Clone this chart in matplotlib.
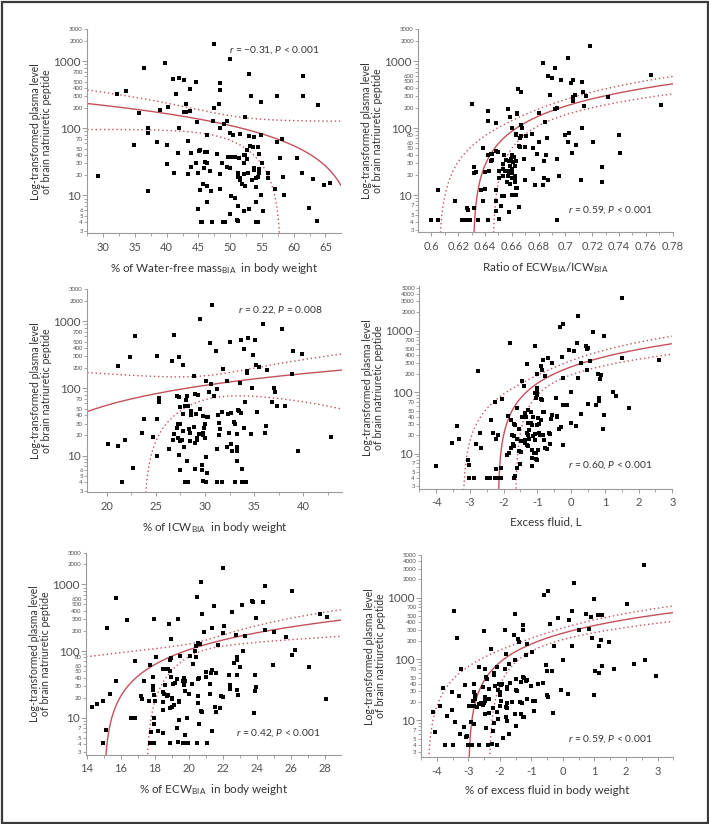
import matplotlib
matplotlib.use("Agg")
import matplotlib.pyplot as plt
import numpy as np
from matplotlib.patches import Rectangle
from matplotlib.ticker import AutoMinorLocator, FixedLocator, FuncFormatter

plt.rcParams["font.family"] = ["Lato", "DejaVu Sans"]
plt.rcParams["mathtext.fontset"] = "custom"
plt.rcParams["mathtext.rm"] = "Lato"
plt.rcParams["mathtext.it"] = "Lato:italic"
plt.rcParams["axes.unicode_minus"] = False

YLABEL = "Log-transformed plasma level\nof brain natriuretic peptide"

# (x, BNP) pairs
water_free = np.array([
    (47.5, 1800), (50.0, 1100), (39.8, 950), (36.4, 790), (53.0, 650), (61.5, 610),
    (41.0, 540), (41.9, 560), (42.7, 520), (44.6, 490), (48.4, 480), (43.6, 390),
    (48.4, 370), (33.6, 365), (32.1, 330), (41.5, 325), (53.2, 300), (57.3, 305),
    (61.5, 300), (54.9, 250), (63.8, 225), (40.2, 210), (43.0, 230), (48.2, 230),
    (47.4, 200), (38.9, 190), (43.7, 182), (42.7, 175), (43.1, 175), (35.7, 168),
    (52.4, 150), (47.3, 130), (49.5, 130), (44.8, 123), (49.0, 115), (48.4, 100),
    (42.0, 100), (37.1, 102), (37.0, 86), (49.9, 86), (51.5, 83), (50.5, 80),
    (46.3, 79), (52.9, 77), (54.9, 80), (53.8, 74), (58.2, 70), (57.3, 63),
    (43.4, 65), (38.5, 63), (34.9, 56), (40.0, 56), (53.1, 54), (53.6, 53),
    (54.3, 53), (45.2, 48), (45.1, 46), (52.6, 48), (43.9, 43), (46.1, 44),
    (46.4, 44), (41.8, 43), (47.9, 41), (54.6, 41), (52.1, 40), (52.4, 40),
    (49.7, 38), (50.3, 38), (50.8, 38), (51.4, 36), (57.9, 36), (60.5, 36),
    (52.7, 35), (46.1, 32), (46.4, 30), (44.6, 31), (48.7, 31), (40.0, 29),
    (52.1, 31), (55.0, 30), (49.5, 27), (43.9, 26.6), (45.9, 26), (53.8, 26),
    (53.7, 24), (49.9, 26), (46.8, 23), (54.6, 25), (54.6, 22), (41.1, 22),
    (45.0, 22), (51.2, 22), (52.1, 21), (48.4, 20.7), (52.8, 21.5), (55.9, 21.5),
    (43.4, 21), (58.3, 19), (29.2, 19.3), (51.3, 19), (51.5, 18), (56.0, 18),
    (54.1, 18.5), (54.4, 19), (53.4, 17), (51.6, 17), (63.1, 17.5), (65.7, 15.5),
    (64.7, 14.5), (45.7, 15), (51.8, 14.6), (52.3, 14), (46.3, 13.7), (54.0, 13.4),
    (48.4, 12.6), (46.9, 11.8), (61.3, 22), (45.2, 12), (37.0, 11.8), (57.1, 12.4),
    (50.2, 9.8), (50.8, 9.3), (54.9, 10), (58.5, 10), (46.3, 8.1), (54.0, 8.1),
    (51.2, 6.9), (62.4, 6.6), (53.0, 6.2), (45.0, 6.2), (52.2, 5.8), (55.1, 5.9),
    (49.9, 5.3), (51.0, 4.3), (51.2, 4.2), (45.4, 4.0), (45.6, 4.0), (47.2, 4.0),
    (48.9, 4.0), (49.2, 4.0), (54.1, 4.0), (54.3, 4.0), (63.6, 4.2),
])

ecw_icw = np.array([
    (0.718, 1700), (0.702, 1100), (0.683, 955), (0.692, 795), (0.687, 610), (0.690, 557),
    (0.697, 520), (0.704, 470), (0.706, 515), (0.712, 485), (0.764, 625), (0.665, 382),
    (0.667, 350), (0.713, 350), (0.707, 315), (0.715, 300), (0.706, 294), (0.6885, 315),
    (0.732, 287), (0.706, 250), (0.630, 228), (0.771, 220), (0.714, 215), (0.6935, 203),
    (0.692, 190), (0.6575, 192), (0.6424, 182), (0.659, 149), (0.664, 169), (0.664, 160),
    (0.680, 166), (0.6424, 127), (0.648, 121), (0.685, 125), (0.660, 99), (0.7126, 101),
    (0.6677, 100), (0.667, 113), (0.663, 83), (0.663, 79), (0.675, 82), (0.6705, 76),
    (0.703, 84), (0.6997, 79), (0.686, 72), (0.6667, 75), (0.666, 70), (0.7076, 56),
    (0.7208, 63), (0.7396, 78), (0.6806, 61), (0.7019, 61), (0.6387, 51), (0.6655, 54),
    (0.6665, 52), (0.670, 52), (0.6756, 51), (0.7049, 43), (0.7406, 42), (0.6484, 46),
    (0.650, 44), (0.6444, 41), (0.6456, 41), (0.6424, 39), (0.6545, 40), (0.6598, 39),
    (0.6613, 37), (0.6596, 35), (0.6858, 39), (0.6789, 41), (0.6558, 33), (0.6692, 34),
    (0.6578, 32), (0.6608, 31), (0.6633, 32), (0.6444, 32), (0.6449, 33), (0.6937, 34),
    (0.6841, 32), (0.6622, 27), (0.6538, 29), (0.6585, 27), (0.6603, 24.5), (0.658, 22),
    (0.6573, 23), (0.6538, 24.5), (0.6756, 24.5), (0.6553, 22.5), (0.6585, 22), (0.6598, 21),
    (0.6317, 26), (0.633, 22), (0.632, 21), (0.6401, 22), (0.6427, 22.5), (0.6503, 22.5),
    (0.6503, 18), (0.6533, 19), (0.6573, 19.5), (0.6598, 18), (0.6622, 19.5), (0.6699, 16.5),
    (0.6627, 17), (0.6841, 18), (0.6873, 17), (0.695, 19.5), (0.7113, 17), (0.7272, 15.8),
    (0.727, 26), (0.6568, 15.8), (0.6585, 14.6), (0.6627, 15.5), (0.6771, 14.3), (0.6836, 13.9),
    (0.664, 12.8), (0.6635, 12.6), (0.6374, 12), (0.6399, 12.4), (0.6047, 12), (0.6484, 12),
    (0.6526, 9.8), (0.6541, 9.8), (0.6605, 10), (0.663, 10), (0.6176, 8.2), (0.6384, 8.2),
    (0.6484, 8.2), (0.6265, 6.4), (0.6273, 6.0), (0.6523, 6.9), (0.6655, 6.7), (0.6317, 6.3),
    (0.6479, 5.8), (0.658, 5.5), (0.6506, 4.4), (0.600, 4.2), (0.6047, 4.2), (0.623, 4.2),
    (0.6258, 4.2), (0.6273, 4.2), (0.6288, 4.2), (0.635, 4.2), (0.6424, 4.2), (0.6935, 4.2),
])

icw_pct = np.array([
    (30.7, 1750), (29.5, 1100), (35.9, 925), (37.8, 780), (22.9, 600), (26.8, 630),
    (30.5, 475), (32.5, 500), (33.7, 520), (34.4, 565), (35.1, 530), (31.1, 360),
    (34.0, 385), (38.9, 360), (39.9, 330), (34.9, 320), (22.4, 290), (25.1, 300),
    (27.4, 298), (26.6, 254), (21.2, 218), (35.2, 226), (35.5, 206), (27.8, 222),
    (31.8, 194), (36.3, 190), (34.3, 183), (34.3, 169), (38.8, 164), (28.9, 151),
    (30.1, 130), (30.6, 116), (32.2, 127), (33.6, 120), (34.8, 101), (31.2, 98),
    (30.4, 87), (37.0, 100), (37.1, 87), (27.2, 78), (27.4, 74), (28.2, 78),
    (29.0, 83), (29.3, 79), (30.9, 78), (25.3, 72), (25.3, 62), (28.1, 68),
    (36.8, 63), (34.1, 63), (38.1, 55), (37.3, 55), (27.5, 52), (28.0, 54),
    (28.3, 55), (28.6, 46), (29.5, 49), (33.4, 48), (33.5, 46), (29.8, 39),
    (30.2, 38), (30.3, 38), (32.6, 43), (32.3, 42), (31.7, 44), (31.3, 40),
    (35.3, 44), (33.7, 43), (27.8, 42), (28.6, 40), (29.1, 41), (23.8, 35),
    (25.1, 35), (30.0, 29), (27.5, 30), (27.3, 29), (31.4, 31), (32.9, 32),
    (33.0, 30), (27.2, 26), (28.9, 27), (29.9, 26), (31.5, 25), (34.0, 26),
    (36.2, 28), (28.4, 25), (23.6, 22), (29.8, 22), (29.8, 20), (29.4, 21),
    (28.5, 22), (31.4, 20), (32.4, 22), (33.3, 21), (34.7, 21), (36.1, 22),
    (26.8, 21), (27.8, 23), (24.7, 19), (29.2, 18), (29.2, 17), (20.1, 15),
    (21.2, 14), (21.9, 17), (27.3, 18), (27.5, 16.5), (26.7, 17), (27.6, 17),
    (27.7, 17), (28.5, 16.7), (29.0, 15.3), (30.0, 18), (42.8, 18.6), (32.6, 14.7),
    (32.2, 13.6), (33.3, 13.3), (32.7, 11.7), (26.3, 12.4), (27.9, 13.2), (31.2, 12.6),
    (39.5, 11.7), (33.3, 11.7), (27.4, 10.2), (25.1, 9.9), (30.1, 9.5), (28.2, 8.2),
    (33.3, 8.2), (22.7, 6.6), (29.0, 6.4), (29.7, 7.1), (29.7, 6.0), (33.8, 6.4),
    (27.5, 6.0), (30.2, 5.5), (21.6, 4.0), (28.0, 4.0), (28.3, 4.0), (29.8, 4.2),
    (30.1, 4.0), (31.2, 4.0), (31.7, 4.0), (33.0, 4.0), (33.8, 4.0), (34.2, 4.0),
])

excess_l = np.array([
    (1.51, 3360), (0.19, 1750), (-0.25, 1280), (-0.33, 1130), (0.64, 950), (0.97, 810),
    (0.17, 640), (-1.80, 620), (-1.07, 560), (0.43, 560), (0.50, 520), (0.47, 500),
    (-0.07, 490), (0.10, 460), (-0.28, 380), (-0.69, 360), (0.55, 320), (1.52, 360),
    (2.62, 330), (-0.83, 330), (-0.57, 300), (0.28, 300), (-1.31, 290), (-0.88, 263),
    (-0.87, 232), (-2.77, 220), (0.46, 225), (-1.00, 195), (-0.77, 181), (-0.24, 170),
    (0.20, 170), (0.81, 200), (0.88, 190), (0.85, 165), (-1.46, 150), (-1.39, 127),
    (-1.00, 115), (-1.01, 102), (-1.00, 90), (-1.08, 98), (-1.05, 80), (-2.06, 78),
    (-2.27, 70), (-0.45, 80), (0.00, 100), (1.24, 100), (1.33, 85), (-0.89, 77),
    (-0.86, 75), (0.82, 80), (0.83, 72), (0.74, 62), (0.50, 63), (-0.23, 62),
    (-0.12, 62), (-1.61, 55), (1.71, 55), (-1.27, 52), (-1.18, 48), (-1.36, 46),
    (-0.84, 48), (-0.81, 48), (-1.45, 40), (-1.34, 39), (-1.13, 39), (-1.86, 41),
    (-0.56, 42), (-0.43, 41), (-0.42, 40), (0.28, 44), (0.97, 43), (-0.98, 38),
    (-0.90, 35), (-1.79, 35), (-2.36, 35), (-0.59, 37), (-1.20, 32), (-1.29, 31),
    (-1.15, 29), (-1.01, 29), (-0.94, 30), (-1.68, 30), (-1.65, 29), (0.00, 31.5),
    (0.14, 28), (-3.37, 28.5), (-0.36, 25), (-0.30, 27), (0.95, 25.5), (-1.54, 25),
    (-1.24, 24.5), (-1.32, 22), (-1.28, 20), (-0.96, 21.7), (-0.82, 20.4), (-0.91, 20),
    (-0.66, 21.7), (-0.64, 20.8), (-1.07, 20.8), (-1.12, 19), (-1.24, 17.5), (-2.31, 21.7),
    (-2.17, 20.4), (-2.71, 22), (-3.54, 15), (-3.31, 17), (-2.24, 17.5), (-1.74, 20),
    (-1.70, 19.4), (-1.61, 17.5), (-1.37, 16.5), (-1.48, 16), (-1.06, 16.7), (-0.81, 16.5),
    (-1.36, 15), (-1.31, 14), (-1.29, 13.5), (-1.72, 14.5), (-1.69, 13.2), (-2.81, 14.5),
    (-2.68, 12.5), (-0.62, 14.5), (-0.23, 14), (-0.76, 12.3), (-0.71, 11.7), (-1.78, 12.5),
    (-1.15, 11.6), (-1.11, 10.2), (-1.03, 10.2), (-0.97, 11.6), (-1.48, 10.6), (-1.55, 11),
    (-1.84, 10.3), (-1.89, 9.6), (-2.07, 5.8), (-1.15, 8.6), (-1.05, 8.2), (-1.00, 7.8),
    (-1.52, 6.8), (-1.16, 6.2), (-1.61, 5.8), (-3.06, 8.0), (-3.04, 6.6), (-4.00, 6.2),
    (-3.04, 4.0), (-2.89, 4.0), (-2.49, 4.0), (-2.44, 4.0), (-2.40, 4.0), (-2.26, 4.0),
    (-2.18, 4.0), (-2.08, 4.0), (-2.23, 5.6), (-1.68, 4.0), (-1.65, 4.3),
])

ecw_pct = np.array([
    (21.99, 1750), (20.70, 1100), (24.48, 950), (26.08, 800), (15.72, 620), (20.46, 640),
    (23.73, 570), (23.79, 540), (24.36, 540), (23.14, 495), (21.5, 480), (22.54, 390),
    (16.39, 290), (19.36, 300), (20.75, 360), (23.97, 316), (17.98, 305), (27.71, 360),
    (28.1, 330), (15.19, 218), (18.84, 254), (21.34, 225), (22.09, 235), (20.89, 190),
    (22.03, 184), (24.48, 208), (25.02, 190), (22.79, 173), (23.28, 168), (25.71, 164),
    (18.95, 151), (20.56, 130), (20.68, 128), (21.7, 122), (20.4, 119), (23.16, 100),
    (26.24, 104), (26.06, 87), (20.38, 100), (18.07, 80), (19.5, 83), (20.07, 85),
    (18.9, 74), (18.97, 78), (20.44, 80), (22.81, 80), (22.85, 73), (16.84, 70),
    (17.72, 62), (20.23, 64), (22.65, 65), (24.95, 62), (27.06, 57), (23.02, 57),
    (18.5, 53), (18.7, 53), (18.8, 53), (18.9, 50), (21.38, 52), (21.6, 47),
    (21.0, 49), (20.98, 41), (17.88, 41), (18.95, 41), (19.3, 38.6), (19.7, 39),
    (19.8, 36), (20.6, 39), (21.3, 47), (22.38, 44), (22.83, 43), (23.87, 43),
    (17.37, 35), (15.72, 35), (17.92, 30), (18.6, 31), (19.08, 32), (19.2, 33),
    (19.66, 35), (19.73, 31), (20.21, 32), (21.23, 32), (22.4, 31), (22.4, 27),
    (23.97, 29), (20.56, 38), (17.92, 26), (19.78, 25), (22.85, 26), (23.87, 25.5),
    (15.39, 23), (17.94, 22), (18.46, 24), (18.52, 23), (18.72, 21), (18.8, 22),
    (17.19, 21), (17.27, 19), (19.0, 20), (20.0, 22.5), (20.56, 21), (21.26, 22.5),
    (21.89, 21), (22.03, 20.5), (22.87, 22), (14.98, 17.5), (14.33, 14.5), (14.59, 16),
    (17.66, 17.5), (18.01, 17.5), (18.5, 17), (19.0, 19), (19.45, 17.5), (19.43, 17),
    (20.54, 16.5), (19.1, 15.5), (18.9, 13.8), (19.0, 14.5), (21.54, 14.5), (21.83, 14),
    (21.58, 12), (18.48, 13), (20.7, 12.6), (20.8, 12), (23.83, 11.9), (16.82, 10),
    (16.58, 10), (17.94, 10), (19.44, 9.3), (19.91, 9.8), (28.06, 19), (17.97, 8.0),
    (20.6, 8.0), (15.14, 6.6), (19.31, 6.9), (18.17, 6.3), (21.36, 6.2), (17.8, 6.0),
    (18.5, 5.8), (19.8, 5.5), (14.98, 4.1), (17.74, 4.1), (17.96, 4.1), (18.91, 4.1),
    (19.35, 4.3), (19.64, 4.1), (19.74, 4.1), (19.95, 4.1), (20.46, 4.1), (21.05, 4.1),
])

excess_pct = np.array([
    (2.56, 3380), (0.36, 1760), (-0.46, 1285), (-0.61, 1120), (0.98, 960), (2.02, 790),
    (-3.45, 613), (0.29, 620), (-1.52, 555), (0.74, 555), (0.88, 490), (1.11, 520),
    (1.23, 530), (-0.16, 470), (0.19, 440), (-0.41, 381), (-1.27, 358), (-1.25, 296),
    (-2.50, 290), (-1.85, 300), (-1.54, 250), (-3.35, 217), (-1.41, 216), (-1.38, 190),
    (0.50, 296), (0.82, 310), (0.93, 224), (1.20, 203), (1.47, 190), (1.15, 162),
    (0.29, 166), (-0.29, 166), (-1.15, 179), (-2.28, 147), (-0.98, 130), (-1.17, 117),
    (-1.79, 123), (-1.52, 98), (0.00, 97), (-0.55, 79), (-2.65, 74), (-2.09, 74),
    (-1.84, 70), (-1.72, 83), (-3.22, 69), (-2.46, 70), (1.02, 64), (1.15, 60),
    (1.25, 78), (1.63, 69), (-0.50, 63), (-0.35, 63), (2.25, 82), (2.59, 98),
    (2.94, 53), (-2.19, 60), (-2.18, 55), (-2.43, 52), (-2.41, 47), (-1.25, 52),
    (-1.22, 49), (-1.50, 48), (-1.15, 45), (-1.33, 42), (-1.18, 44), (-2.83, 40),
    (-3.09, 38), (-3.81, 34), (-2.15, 36), (-2.03, 39), (-1.97, 38), (-1.93, 39),
    (-1.77, 35), (-1.78, 32), (-1.67, 41), (-0.80, 39), (-0.62, 41), (-1.00, 36),
    (-1.50, 31), (-1.47, 30), (-2.07, 31), (-2.01, 29), (-2.33, 32), (-2.52, 35),
    (-3.51, 29), (-3.28, 25), (-2.81, 29), (-2.78, 26), (-2.01, 25.5), (-0.05, 31),
    (0.17, 27.4), (-0.48, 24.5), (-0.50, 26), (1.00, 26), (-0.95, 20.8), (-0.87, 20.5),
    (-1.15, 22), (-1.30, 19.3), (-1.35, 20), (-1.62, 20), (-1.78, 19.5), (-1.95, 21),
    (-2.46, 24), (-2.41, 22.3), (-2.47, 21), (-2.33, 22), (-2.49, 19.5), (-2.66, 18.8),
    (-2.59, 19), (-2.86, 21), (-2.78, 22), (-2.91, 17), (-2.83, 17), (-2.98, 17.3),
    (-2.72, 16.8), (-2.54, 18), (-2.23, 16), (-2.01, 17), (-1.81, 16.6), (-1.77, 16),
    (-4.12, 13.5), (-3.89, 17), (-3.51, 15), (-3.67, 12), (-2.46, 12.9), (-2.33, 13.2),
    (-2.09, 13.5), (-1.82, 11.4), (-1.33, 12.5), (-1.28, 11.4), (-1.22, 11.4), (-1.52, 12.7),
    (-0.93, 14), (-0.33, 13), (-3.43, 9.5), (-2.90, 9.4), (-2.81, 8.7), (-2.19, 9.2),
    (-1.77, 9.8), (-2.07, 10.6), (-2.43, 7.6), (-2.23, 6.7), (-1.49, 8.1), (-3.14, 7.7),
    (-3.25, 6.0), (-3.05, 5.6), (-3.07, 5.4), (-1.72, 6.0), (-1.89, 5.1), (-4.07, 6.4),
    (-3.75, 4.0), (-3.50, 3.9), (-3.02, 3.9), (-2.94, 3.9), (-2.87, 3.9), (-2.67, 3.9),
    (-2.38, 3.9), (-2.25, 4.1), (-2.08, 3.9),
])

# linear fit on raw BNP: (intercept, slope), and 95% band (half width at centre, growth, centre)
fits = {
    "water_free": (387.0, -5.53, 44.0, 5.93, 49.7),
    "ecw_icw": (-1944.0, 3081.0, 39.3, 1122.0, 0.666),
    "icw_pct": (-54.0, 5.5, 43.0, 9.68, 30.34),
    "excess_l": (258.0, 119.0, 49.4, 49.6, -0.908),
    "ecw_pct": (-313.5, 20.9, 20.0, 15.0, 20.72),
    "excess_pct": (265.5, 88.5, 42.3, 33.7, -1.135),
}

notes = {
    "water_free": r"$r$ = −0.31, $P$ < 0.001",
    "ecw_icw": r"$r$ = 0.59, $P$ < 0.001",
    "icw_pct": r"$r$ = 0.22, $P$ = 0.008",
    "excess_l": r"$r$ = 0.60, $P$ < 0.001",
    "ecw_pct": r"$r$ = 0.42, $P$ < 0.001",
    "excess_pct": r"$r$ = 0.59, $P$ < 0.001",
}

xlabels = {
    "water_free": r"% of Water-free mass$_{\mathrm{BIA}}$  in body weight",
    "ecw_icw": r"Ratio of ECW$_{\mathrm{BIA}}$/ICW$_{\mathrm{BIA}}$",
    "icw_pct": r"% of ICW$_{\mathrm{BIA}}$  in body weight",
    "excess_l": "Excess fluid, L",
    "ecw_pct": r"% of ECW$_{\mathrm{BIA}}$  in body weight",
    "excess_pct": "% of excess fluid in body weight",
}

xticks = {
    "water_free": [30, 35, 40, 45, 50, 55, 60, 65],
    "ecw_icw": [0.6, 0.62, 0.64, 0.66, 0.68, 0.7, 0.72, 0.74, 0.76, 0.78],
    "icw_pct": [20, 25, 30, 35, 40],
    "excess_l": [-4, -3, -2, -1, 0, 1, 2, 3],
    "ecw_pct": [14, 16, 18, 20, 22, 24, 26, 28],
    "excess_pct": [-4, -3, -2, -1, 0, 1, 2, 3],
}

small_ylabels = {
    "water_free": [3, 4, 5, 6, 20, 30, 40, 50, 70, 200, 300, 400, 500, 700, 2000, 3000],
    "ecw_icw": [3, 4, 5, 7, 20, 30, 40, 50, 60, 80, 200, 300, 400, 500, 600, 2000, 3000],
    "icw_pct": [3, 4, 5, 6, 20, 30, 40, 50, 70, 200, 300, 400, 500, 700, 2000, 3000],
    "excess_l": [3, 4, 5, 7, 20, 30, 40, 50, 70, 200, 300, 400, 500, 700, 2000, 3000, 4000, 5000],
    "ecw_pct": [3, 4, 5, 7, 20, 30, 40, 50, 60, 80, 200, 300, 400, 500, 600, 2000, 3000],
    "excess_pct": [3, 4, 5, 7, 20, 30, 40, 50, 70, 200, 300, 400, 500, 700, 2000, 3000, 4000, 5000],
}

# panel layout in pixels: left, right, top, bottom; then xlim, ylim, note position
layout = {
    "water_free": ((87.3, 340.7, 29.3, 233.3), (27.5, 67.4), (2.73, 3000), (0.559, 0.898)),
    "ecw_icw": ((418.3, 672.7, 29.3, 232.3), (0.5903, 0.78), (2.77, 3000), (0.588, 0.11)),
    "icw_pct": ((87.3, 341.7, 289.3, 492.3), (18.03, 43.9), (2.83, 3000), (0.592, 0.898)),
    "excess_l": ((419.3, 672.3, 285.7, 489.0), (-4.5, 3.0), (2.65, 5400), (0.588, 0.118)),
    "ecw_pct": ((86.0, 340.7, 552.7, 755.0), (13.96, 28.92), (2.74, 3000), (0.589, 0.109)),
    "excess_pct": ((421.0, 673.3, 555.0, 757.3), (-4.5, 3.5), (2.5, 5000), (0.583, 0.09)),
}

panels = {
    "water_free": water_free, "ecw_icw": ecw_icw, "icw_pct": icw_pct,
    "excess_l": excess_l, "ecw_pct": ecw_pct, "excess_pct": excess_pct,
}

W, H = 709, 824
FIT_COLOR = "#c4505c"
TICK_COLOR = "#505050"
SPINE_COLOR = "#9a9a9a"


def positive(v):
    v = v.copy()
    v[v <= 0] = np.nan
    return v


def draw_panel(fig, key):
    (l, r, t, b), xlim, ylim, note_xy = layout[key]
    ax = fig.add_axes([l / W, 1 - b / H, (r - l) / W, (b - t) / H])
    pts = panels[key]

    a, slope, w0, k, xm = fits[key]
    xs = np.linspace(xlim[0], xlim[1], 3000)
    ys = a + slope * xs
    half = np.sqrt(w0 ** 2 + (k * (xs - xm)) ** 2)
    ax.plot(xs, positive(ys), color=FIT_COLOR, lw=1.0, zorder=2)
    ax.plot(xs, positive(ys + half), color=FIT_COLOR, lw=1.0, ls=(0, (1, 2)), zorder=2)
    ax.plot(xs, positive(ys - half), color=FIT_COLOR, lw=1.0, ls=(0, (1, 2)), zorder=2)

    ax.plot(pts[:, 0], pts[:, 1], "s", color="black", ms=2.4, mew=0, zorder=3)

    ax.set_yscale("log")
    ax.set_xlim(*xlim)
    ax.set_ylim(*ylim)

    for side in ("top", "right"):
        ax.spines[side].set_visible(False)
    for side in ("left", "bottom"):
        ax.spines[side].set_color(SPINE_COLOR)
        ax.spines[side].set_linewidth(0.8)

    ax.yaxis.set_major_locator(FixedLocator([10, 100, 1000]))
    ax.yaxis.set_major_formatter(FuncFormatter(lambda v, p: "%d" % v))
    minor = [m * 10 ** e for e in range(0, 4) for m in range(2, 10) if ylim[0] <= m * 10 ** e <= ylim[1]]
    ax.yaxis.set_minor_locator(FixedLocator(minor))
    shown = small_ylabels[key]
    ax.yaxis.set_minor_formatter(FuncFormatter(
        lambda v, p: "%d" % round(v) if round(v) in shown else ""))
    ax.tick_params(axis="y", which="major", labelsize=8.5, length=3.5, width=0.7,
                   color=SPINE_COLOR, labelcolor=TICK_COLOR, pad=1)
    ax.tick_params(axis="y", which="minor", labelsize=4.3, length=2.2, width=0.6,
                   color=SPINE_COLOR, labelcolor=TICK_COLOR, pad=1)

    ax.set_xticks(xticks[key])
    ax.xaxis.set_major_formatter(FuncFormatter(lambda v, p: "%g" % v))
    ax.xaxis.set_minor_locator(AutoMinorLocator(2))
    ax.tick_params(axis="x", which="major", labelsize=8, length=3, width=0.7,
                   color=SPINE_COLOR, labelcolor=TICK_COLOR, pad=3)
    ax.tick_params(axis="x", which="minor", length=2, width=0.6, color=SPINE_COLOR)

    ax.set_ylabel(YLABEL, fontsize=7.6, color="#333333", linespacing=1.0)
    ax.yaxis.set_label_coords(-0.139, 0.5)
    ax.set_xlabel(xlabels[key], fontsize=8.4, color="#333333")
    ax.xaxis.set_label_coords(0.5, -0.135)

    ax.text(note_xy[0], note_xy[1], notes[key], transform=ax.transAxes,
            fontsize=7.4, color="#333333", ha="left", va="center")
    return ax


fig = plt.figure(figsize=(W / 100, H / 100), dpi=100)
for key in panels:
    draw_panel(fig, key)

fig.patches.append(Rectangle((1.5 / W, 1.5 / H), 1 - 3 / W, 1 - 3 / H, transform=fig.transFigure,
                             fill=False, edgecolor="#3a3a3a", linewidth=1.6))

fig.savefig("out.png", dpi=100)
